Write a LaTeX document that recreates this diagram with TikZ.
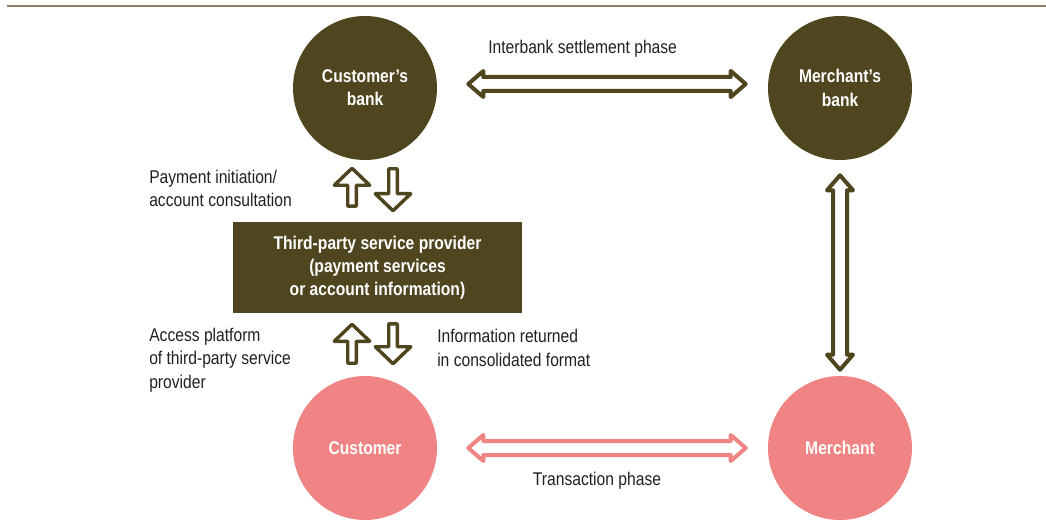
\documentclass[tikz,border=0pt]{standalone}
\usepackage{fontspec}
\setmainfont{Liberation Sans}[FakeStretch=0.85]
\usepackage{xcolor}
\usepackage{tikz}
\usetikzlibrary{calc}

\definecolor{bankbrown}{RGB}{79,70,32}
\definecolor{shoppink}{RGB}{240,132,132}
\definecolor{rulegrey}{RGB}{139,129,98}
\definecolor{textgrey}{RGB}{35,31,32}
\newcommand{\lblsize}{\fontsize{13.8pt}{17.4pt}\selectfont}

\begin{document}
\begin{tikzpicture}[x=0.75pt, y=-0.75pt,
    bank/.style={circle, fill=bankbrown, minimum size=108pt, inner sep=0pt, text=white, font=\bfseries\lblsize, align=center},
    shop/.style={bank, fill=shoppink},
    provider/.style={rectangle, fill=bankbrown, minimum width=216.75pt, minimum height=68.25pt, inner sep=0pt, text=white, font=\bfseries\lblsize, align=center},
    lbl/.style={inner sep=0pt, text=textgrey, font=\lblsize, align=left},
    twohead/.style={line width=3pt, line join=round, fill=white, to path={
        -- ($(\tikztostart)!11.25pt!(\tikztotarget)!9.75pt!90:(\tikztotarget)$)
        -- ($(\tikztostart)!11.25pt!(\tikztotarget)!5.25pt!90:(\tikztotarget)$)
        -- ($(\tikztotarget)!11.25pt!(\tikztostart)!5.25pt!-90:(\tikztostart)$)
        -- ($(\tikztotarget)!11.25pt!(\tikztostart)!9.75pt!-90:(\tikztostart)$)
        -- (\tikztotarget)
        -- ($(\tikztotarget)!11.25pt!(\tikztostart)!9.75pt!90:(\tikztostart)$)
        -- ($(\tikztotarget)!11.25pt!(\tikztostart)!5.25pt!90:(\tikztostart)$)
        -- ($(\tikztostart)!11.25pt!(\tikztotarget)!5.25pt!-90:(\tikztotarget)$)
        -- ($(\tikztostart)!11.25pt!(\tikztotarget)!9.75pt!-90:(\tikztotarget)$)
        -- cycle}},
    onehead/.style={line width=2.6pt, line join=round, fill=white, draw=bankbrown, to path={
        -- ($(\tikztostart)!3.2pt!90:(\tikztotarget)$)
        -- ($(\tikztotarget)!12.75pt!(\tikztostart)!3.2pt!-90:(\tikztostart)$)
        -- ($(\tikztotarget)!12.75pt!(\tikztostart)!13.3pt!-90:(\tikztostart)$)
        -- (\tikztotarget)
        -- ($(\tikztotarget)!12.75pt!(\tikztostart)!13.3pt!90:(\tikztostart)$)
        -- ($(\tikztotarget)!12.75pt!(\tikztostart)!3.2pt!90:(\tikztostart)$)
        -- ($(\tikztostart)!3.2pt!-90:(\tikztotarget)$)
        -- cycle}}]
    \useasboundingbox (0,0) rectangle (1046,524);

    % 
    \draw[rulegrey, line width=1.5pt] (7,6.5) -- (1046,6.5);

    % 
    \node[bank] (cbank) at (365,88) {Customer's\\bank};
    \node[bank] (mbank) at (840,88) {Merchant's\\bank};
    \node[shop] (cust) at (365,448) {Customer};
    \node[shop] (merch) at (840,448) {Merchant};
    \node[provider] (tpp) at (377.5,267.5) {Third-party service provider\\(payment services\\or account information)};

    % 
    \coordinate (ib1) at ($(cbank.east)+(31,-4)$);
    \coordinate (ib2) at ($(mbank.west)+(-22,-4)$);
    \coordinate (vb1) at ($(mbank.south)+(0,15)$);
    \coordinate (vb2) at ($(merch.north)+(0,-6)$);
    \coordinate (tr1) at ($(cust.east)+(31,0)$);
    \coordinate (tr2) at ($(merch.west)+(-22,0)$);
    \draw[twohead, draw=bankbrown] (ib1) to (ib2);
    \draw[twohead, draw=bankbrown] (vb1) to (vb2);
    \draw[twohead, draw=shoppink] (tr1) to (tr2);

    % 
    \coordinate (up1) at ($(tpp.north)+(-25.5,-15.5)$);
    \coordinate (up1t) at ($(cbank.south)+(-13,8)$);
    \coordinate (dn1) at ($(cbank.south)+(28,8.5)$);
    \coordinate (dn1t) at ($(tpp.north)+(15.5,-11)$);
    \coordinate (up2) at ($(cust.north)+(-13,-12.5)$);
    \coordinate (up2t) at ($(tpp.south)+(-25.5,11)$);
    \coordinate (dn2) at ($(tpp.south)+(15.5,10.5)$);
    \coordinate (dn2t) at ($(cust.north)+(28,-12)$);
    \draw[onehead] (up1) to (up1t);
    \draw[onehead] (dn1) to (dn1t);
    \draw[onehead] (up2) to (up2t);
    \draw[onehead] (dn2) to (dn2t);

    % 
    \node[lbl, anchor=base west] (interlbl) at (488,54) {Interbank settlement phase};
    \node[lbl, anchor=base west] (paylbl) at (149,207) {Payment initiation/\\account consultation};
    \node[lbl, anchor=base west] (acclbl) at (149,388) {Access platform\\of third-party service\\provider};
    \node[lbl, anchor=base west] (inflbl) at (437,366) {Information returned\\in consolidated format};
    \node[lbl, anchor=base] (translbl) at (597,485) {Transaction phase};
\end{tikzpicture}
\end{document}
